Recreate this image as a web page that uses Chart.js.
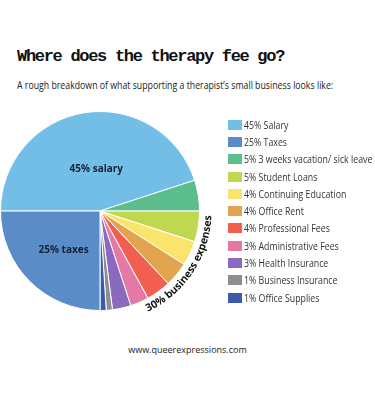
<!DOCTYPE html>
<html>
<head>
<meta charset="utf-8">
<script src="https://cdn.jsdelivr.net/npm/chart.js@4"></script>
<style>
    body { margin: 0; background: #fff; width: 375px; height: 406px; position: relative; overflow: hidden; font-family: 'Open Sans', sans-serif; color: #222; }
    #title { position: absolute; left: 17px; top: 47px; font-family: 'Liberation Mono', monospace; font-weight: bold; font-size: 17px; letter-spacing: -1.3px; white-space: nowrap; color: #111; }
    #subtitle { position: absolute; left: 17px; top: 78px; font-size: 10.5px; white-space: nowrap; transform-origin: 0 0; color: #222; }
    #chart { position: absolute; left: 0; top: 105px; }
    #legend { position: absolute; left: 228px; top: 116px; margin: 0; padding: 0; list-style: none; }
    #legend li { height: 17.3px; display: flex; align-items: center; font-size: 10.5px; white-space: nowrap; color: #333; }
    #legend .box { width: 14px; height: 10px; margin-right: 2px; flex: none; }
    #legend .txt { display: inline-block; transform-origin: 0 50%; }
    #url { position: absolute; left: 0; width: 375px; text-align: center; top: 343px; font-size: 9px; color: #222; }
</style>
</head>
<body>
<div id="title">Where does the therapy fee go?</div>
<div id="subtitle">A rough breakdown of what supporting a therapist’s small business looks like:</div>
<canvas id="chart" width="232" height="222"></canvas>
<ul id="legend"></ul>
<div id="url">www.queerexpressions.com</div>
<script>
// slices in clockwise order, starting at 9 o'clock
const categories = ['Salary', '3 weeks vacation/ sick leave', 'Student Loans', 'Continuing Education', 'Office Rent',
    'Professional Fees', 'Administrative Fees', 'Health Insurance', 'Business Insurance', 'Office Supplies', 'Taxes'];
const values = [45, 5, 5, 4, 4, 4, 3, 3, 1, 1, 25];
const colors = ['#73BEE6', '#5BBE8C', '#BFD84F', '#FAE46C', '#E3A44F', '#F05F50', '#E678A6', '#8B69BE', '#8C8E91', '#3C5AAA', '#5A8DC8'];
const sliceLabels = ['45% salary', '', '', '', '', '', '', '', '', '', '25% taxes'];
const legendOrder = [0, 10, 1, 2, 3, 4, 5, 6, 7, 8, 9];
const curvedLabel = '30% business expenses';

// squeeze subtitle to the width it has in the original
const sub = document.getElementById('subtitle');
sub.style.transform = `scaleX(${316 / sub.scrollWidth})`;

const legend = document.getElementById('legend');
legendOrder.forEach(i => {
    const li = document.createElement('li');
    li.innerHTML = `<span class="box" style="background:${colors[i]}"></span><span class="txt">${values[i]}% ${categories[i]}</span>`;
    legend.appendChild(li);
});
const txts = legend.querySelectorAll('.txt');
const widest = Math.max(...Array.from(txts).map(t => t.offsetWidth));
txts.forEach(t => { t.style.transform = `scaleX(${128 / widest})`; });

const labelPlugin = {
    id: 'sliceText',
    afterDatasetsDraw(chart) {
        const ctx = chart.ctx;
        const arcs = chart.getDatasetMeta(0).data;
        ctx.save();
        ctx.fillStyle = '#17213a';
        ctx.font = 'bold 10px "Open Sans"';
        ctx.textAlign = 'center';
        ctx.textBaseline = 'middle';
        arcs.forEach((arc, i) => {
            if (!sliceLabels[i]) return;
            const mid = (arc.startAngle + arc.endAngle) / 2;
            const r = arc.outerRadius * (i === 0 ? 0.43 : 0.56);
            ctx.fillText(sliceLabels[i], arc.x + r * Math.cos(mid) + (i === 0 ? 3 : 3), arc.y + r * Math.sin(mid));
        });

        // curved text along the business expense slices
        const first = arcs[1], last = arcs[9];
        const cx = first.x, cy = first.y;
        const r = first.outerRadius + 12;
        const mid = (first.startAngle + last.endAngle) / 2 - 2.5 * Math.PI / 180;
        ctx.fillStyle = '#111';
        ctx.font = 'bold 10.5px "Open Sans"';
        ctx.textBaseline = 'alphabetic';
        const total = ctx.measureText(curvedLabel).width;
        let a = mid + total / r / 2;
        for (const ch of curvedLabel) {
            const w = ctx.measureText(ch).width;
            a -= w / 2 / r;
            ctx.save();
            ctx.translate(cx + r * Math.cos(a), cy + r * Math.sin(a));
            ctx.rotate(a - Math.PI / 2);
            ctx.fillText(ch, 0, 0);
            ctx.restore();
            a -= w / 2 / r;
        }
        ctx.restore();
    }
};

new Chart(document.getElementById('chart'), {
    type: 'pie',
    data: {
        labels: categories,
        datasets: [{
            data: values,
            backgroundColor: colors,
            borderColor: '#ffffff',
            borderWidth: 1
        }]
    },
    options: {
        responsive: false,
        animation: false,
        devicePixelRatio: 1,
        rotation: -90,
        layout: { padding: { left: 0, top: 6, right: 32, bottom: 16 } },
        plugins: {
            legend: { display: false },
            tooltip: { enabled: false }
        }
    },
    plugins: [labelPlugin]
});
</script>
</body>
</html>
